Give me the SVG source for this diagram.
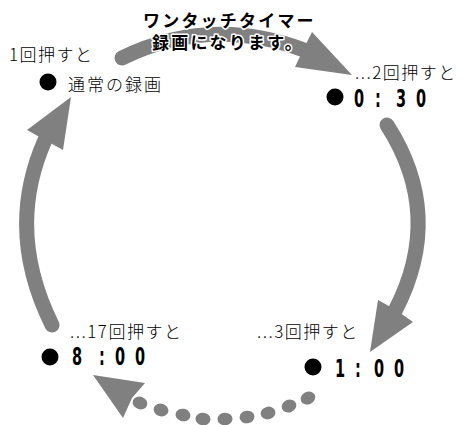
<svg xmlns="http://www.w3.org/2000/svg" width="462" height="425" viewBox="0 0 462 425">
<style>
.jp{font-family:"Noto Sans CJK JP","DejaVu Sans",sans-serif;font-size:17px;font-weight:300;fill:#000;letter-spacing:1.5px}
.title{font-family:"Noto Sans CJK JP","DejaVu Sans",sans-serif;font-size:17px;font-weight:bold;fill:#000;letter-spacing:2.2px;stroke:#fff;stroke-width:3px;stroke-linejoin:round;paint-order:stroke}
.num{font-family:"DejaVu Sans",sans-serif;font-size:25px;font-weight:bold;fill:#000;text-anchor:middle}
.body{fill:none;stroke:#808080;stroke-width:15;stroke-linecap:round}
.head{fill:#808080}
.dot{fill:#808080}
.bullet{fill:#000}
</style>
<g id="connectors">
  <path class="body" d="M122,58 Q210,15 304,50"/>
  <polygon class="head" points="352,75 312,32 304,48 295,67"/>
  <path class="body" d="M387,125 Q445,215 395,311"/>
  <polygon class="head" points="370,352 378,300 396,310 413,322"/>
  <path class="body" d="M52,325 Q5,230 45,140"/>
  <polygon class="head" points="71,97 27,130 45,140 63,150"/>
  <g id="dotted">
    <ellipse class="dot" cx="308" cy="398" rx="7.5" ry="6.3" transform="rotate(-25 308 398)"/>
    <ellipse class="dot" cx="289" cy="406" rx="7.5" ry="6.3" transform="rotate(-20 289 406)"/>
    <ellipse class="dot" cx="268" cy="413" rx="7.5" ry="6.3" transform="rotate(-14 268 413)"/>
    <ellipse class="dot" cx="247" cy="417" rx="7.5" ry="6.3" transform="rotate(-8 247 417)"/>
    <ellipse class="dot" cx="225" cy="419" rx="7.5" ry="6.3" transform="rotate(-3 225 419)"/>
    <ellipse class="dot" cx="203" cy="419" rx="7.5" ry="6.3" transform="rotate(5 203 419)"/>
    <ellipse class="dot" cx="183" cy="415" rx="7.5" ry="6.3" transform="rotate(12 183 415)"/>
    <ellipse class="dot" cx="161" cy="410" rx="7.5" ry="6.3" transform="rotate(17 161 410)"/>
    <ellipse class="dot" cx="140" cy="403" rx="7.5" ry="6.3" transform="rotate(22 140 403)"/>
    <polygon class="head" points="93,375 145,383 132,398 123,418"/>
  </g>
</g>
<g id="title">
  <text class="title" x="143" y="27">ワンタッチタイマー</text>
  <text class="title" x="152" y="49">録画になります。</text>
</g>
<g id="node-1">
  <text class="jp" x="9" y="61">1回押すと</text>
  <circle class="bullet" cx="48" cy="82" r="8.5"/>
  <text class="jp" x="68" y="91" style="letter-spacing:2px">通常の録画</text>
</g>
<g id="node-2">
  <text class="jp" x="355" y="79">...2回押すと</text>
  <circle class="bullet" cx="335" cy="97" r="8.5"/>
  <text class="num" transform="scale(0.58,1)" y="107"><tspan x="619">0</tspan><tspan x="651.7">:</tspan><tspan x="691.4">3</tspan><tspan x="725.9">0</tspan></text>
</g>
<g id="node-3">
  <text class="jp" x="257" y="338">...3回押すと</text>
  <circle class="bullet" cx="313" cy="367" r="8.5"/>
  <text class="num" transform="scale(0.58,1)" y="377"><tspan x="586.2">1</tspan><tspan x="617.2">:</tspan><tspan x="653.4">0</tspan><tspan x="687.9">0</tspan></text>
</g>
<g id="node-17">
  <text class="jp" x="70" y="338">...17回押すと</text>
  <circle class="bullet" cx="50" cy="357" r="8.5"/>
  <text class="num" transform="scale(0.58,1)" y="365"><tspan x="132.8">8</tspan><tspan x="175.9">:</tspan><tspan x="206.9">0</tspan><tspan x="241.4">0</tspan></text>
</g>
</svg>
